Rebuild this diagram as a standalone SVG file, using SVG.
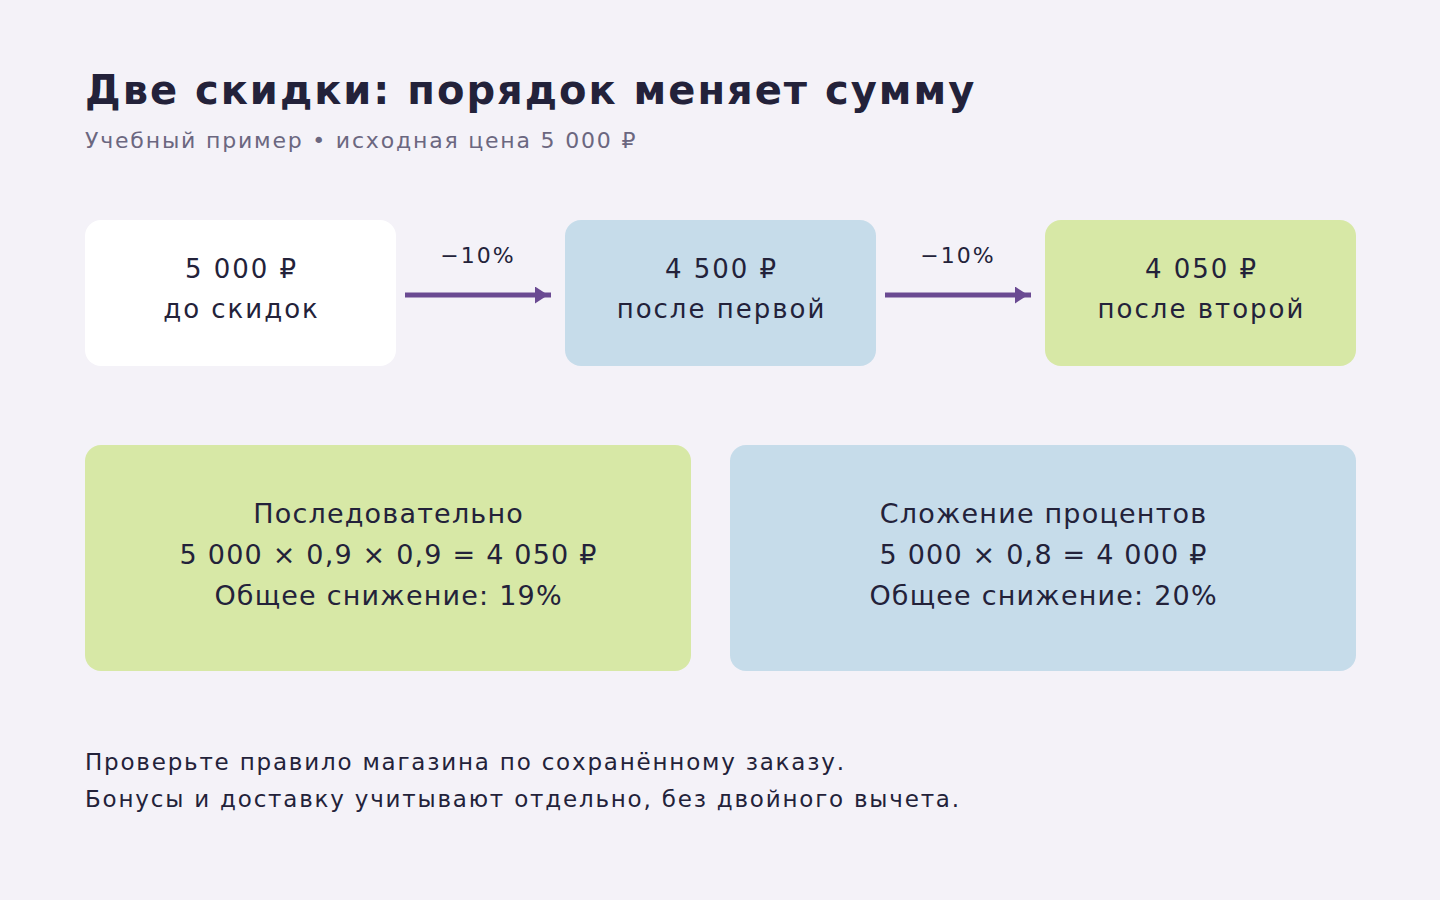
<svg xmlns="http://www.w3.org/2000/svg" width="1440" height="900" viewBox="0 0 1440 900">
<defs>
<style>
text{font-family:"DejaVu Sans","Noto Sans",sans-serif;fill:#23223a}
.title{font-size:40px;font-weight:bold;letter-spacing:2px}
.sub{font-size:22px;fill:#6b6780;letter-spacing:1.8px}
.node{font-size:26px;text-anchor:middle;letter-spacing:2px}
.big{font-size:27px;text-anchor:middle;letter-spacing:1.2px}
.lbl{font-size:22px;text-anchor:middle;letter-spacing:2px}
.foot{font-size:23px;letter-spacing:1.8px}
.conn{stroke:#6a4a92;stroke-width:5;fill:none}
</style>
<marker id="ah" markerUnits="userSpaceOnUse" markerWidth="18" markerHeight="18" refX="16" refY="8.5" orient="auto">
<path d="M0,0 L13,8.5 L0,17 Z" fill="#6a4a92"/>
</marker>
</defs>
<rect width="1440" height="900" fill="#f4f2f8"/>
<text class="title" x="85" y="104">Две скидки: порядок меняет сумму</text>
<text class="sub" x="85" y="148">Учебный пример • исходная цена 5 000 ₽</text>
<g id="n1"><rect x="85" y="220" width="311" height="146" rx="16" fill="#ffffff"/><text class="node" x="241.5" y="278">5 000 ₽</text><text class="node" x="241.5" y="318">до скидок</text></g>
<g id="n2"><rect x="565" y="220" width="311" height="146" rx="16" fill="#c6dcea"/><text class="node" x="721.5" y="278">4 500 ₽</text><text class="node" x="721.5" y="318">после первой</text></g>
<g id="n3"><rect x="1045" y="220" width="311" height="146" rx="16" fill="#d7e8a6"/><text class="node" x="1201.5" y="278">4 050 ₽</text><text class="node" x="1201.5" y="318">после второй</text></g>
<g id="connectors">
<line class="conn" x1="405" y1="295" x2="551" y2="295" marker-end="url(#ah)"/>
<text class="lbl" x="478" y="263">−10%</text>
<line class="conn" x1="885" y1="295" x2="1031" y2="295" marker-end="url(#ah)"/>
<text class="lbl" x="958" y="263">−10%</text>
</g>
<g id="seq"><rect x="85" y="445" width="606" height="226" rx="16" fill="#d7e8a6"/><text class="big" x="388.6" y="523">Последовательно</text><text class="big" x="388.6" y="564">5 000 × 0,9 × 0,9 = 4 050 ₽</text><text class="big" x="388.6" y="605">Общее снижение: 19%</text></g>
<g id="sum"><rect x="730" y="445" width="626" height="226" rx="16" fill="#c6dcea"/><text class="big" x="1043.6" y="523">Сложение процентов</text><text class="big" x="1043.6" y="564">5 000 × 0,8 = 4 000 ₽</text><text class="big" x="1043.6" y="605">Общее снижение: 20%</text></g>
<text class="foot" x="85" y="770">Проверьте правило магазина по сохранённому заказу.</text>
<text class="foot" x="85" y="807">Бонусы и доставку учитывают отдельно, без двойного вычета.</text>
</svg>
